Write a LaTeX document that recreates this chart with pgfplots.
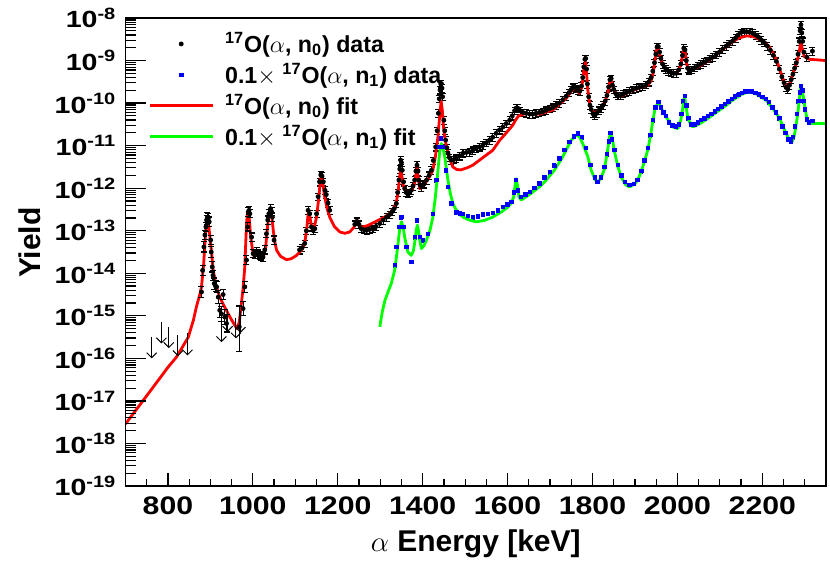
\documentclass[border=0pt]{standalone}
\usepackage{fontspec}
\setmainfont{Liberation Sans}
\usepackage{graphicx}
\usepackage{pgfplots}
\pgfplotsset{compat=1.18}
\usetikzlibrary{arrows.meta}
\definecolor{rootgreen}{RGB}{0,255,0}
\newcommand\yl[1]{\scalebox{1.22}[1]{10\textsuperscript{-#1}}}
\newcommand\xl[1]{\scalebox{1.19}[1]{#1}}
\begin{document}
\begin{tikzpicture}
\path[use as bounding box] (-62.75pt,-39.5pt) rectangle (352.25pt,243pt);
\begin{axis}[
  width=350.25pt, height=234pt, scale only axis,
  xmin=700, xmax=2350, ymin=1e-19, ymax=1e-8, ymode=log,
  axis on top,
  xtick=\empty,
  ytick={1e-19,1e-18,1e-17,1e-16,1e-15,1e-14,1e-13,1e-12,1e-11,1e-10,1e-9,1e-8},
  yticklabels={\yl{19},\yl{18},\yl{17},\yl{16},\yl{15},\yl{14},\yl{13},\yl{12},\yl{11},\yl{10},\yl{9},\yl{8}},
  minor ytick={2e-19,3e-19,4e-19,5e-19,6e-19,7e-19,8e-19,9e-19,
    2e-18,3e-18,4e-18,5e-18,6e-18,7e-18,8e-18,9e-18,
    2e-17,3e-17,4e-17,5e-17,6e-17,7e-17,8e-17,9e-17,
    2e-16,3e-16,4e-16,5e-16,6e-16,7e-16,8e-16,9e-16,
    2e-15,3e-15,4e-15,5e-15,6e-15,7e-15,8e-15,9e-15,
    2e-14,3e-14,4e-14,5e-14,6e-14,7e-14,8e-14,9e-14,
    2e-13,3e-13,4e-13,5e-13,6e-13,7e-13,8e-13,9e-13,
    2e-12,3e-12,4e-12,5e-12,6e-12,7e-12,8e-12,9e-12,
    2e-11,3e-11,4e-11,5e-11,6e-11,7e-11,8e-11,9e-11,
    2e-10,3e-10,4e-10,5e-10,6e-10,7e-10,8e-10,9e-10,
    2e-9,3e-9,4e-9,5e-9,6e-9,7e-9,8e-9,9e-9},
  tick pos=left, tick align=inside,
  major tick length=10.5pt, minor tick length=5.5pt,
  axis line style={line width=0.9pt},
  tick style={draw=black, line width=0.6pt},
  yticklabel style={font=\bfseries\fontsize{11.7}{14}\selectfont, anchor=east, inner sep=0pt, xshift=-4.3pt},
  ylabel={Yield},
  ylabel style={font=\bfseries\fontsize{15}{18}\selectfont, at={(axis description cs:-0.1363,0.52)}, anchor=center},
  legend style={at={(axis description cs:0.032,0.972)}, anchor=north west, draw=none, fill=none, inner sep=0pt,
    font=\bfseries\fontsize{11.6}{13}\selectfont, row sep=3pt, nodes={inner sep=0.5pt},
    /tikz/every odd column/.append style={column sep=5pt}},
  legend cell align=left,
  legend image code/.code={\draw[mark repeat=2,mark phase=2,#1] plot coordinates {(0pt,0pt) (15.75pt,0pt) (31.5pt,0pt)};},
]
% 17O(a,n0) data
\addplot[only marks, mark=*, mark size=1pt, black,
  error bars/.cd, y dir=both, y fixed relative=0.2,
  error bar style={line width=0.55pt, black},
  error mark options={rotate=90, mark size=1.5pt, line width=0.55pt, black}]
table {
1110 3.55e-14
1116 3.98e-14
1122 5.01e-14
1126 1.00e-13
1130 3.02e-13
1134 2.51e-13
1138 1.23e-13
1142 1.02e-13
1146 1.12e-13
1150 2.51e-13
1153.6 6.31e-13
1157 1.41e-12
1160 2.04e-12
1163 1.91e-12
1166 1.41e-12
1170 8.91e-13
1173 7.08e-13
1177 4.47e-13
1181 3.02e-13
1240 1.41e-13
1245 1.66e-13
1250 1.41e-13
1255 1.12e-13
1262 1.05e-13
1268 1.02e-13
1275 1.07e-13
1283 1.12e-13
1290 1.26e-13
1299 1.48e-13
1307 1.78e-13
1315 2.09e-13
1322 2.40e-13
1328 2.82e-13
1333 3.31e-13
1338 4.37e-13
1341 7.94e-13
1344 1.55e-12
1346 2.82e-12
1348 4.57e-12
1350 3.98e-12
1352 2.63e-12
1355 1.41e-12
1357.6 9.77e-13
1361 7.94e-13
1365 7.41e-13
1369 7.94e-13
1373 8.91e-13
1377 1.12e-12
1381 1.55e-12
1384 2.51e-12
1386.6 3.47e-12
1389 2.51e-12
1391 1.55e-12
1394 1.20e-12
1397 1.07e-12
1403 1.26e-12
1409 1.55e-12
1415 2.00e-12
1420.5 2.63e-12
1425 4.47e-12
1430.6 9.33e-12
1434 2.24e-11
1437 5.75e-11
1439 1.26e-10
1440.7 2.04e-10
1442.5 2.82e-10
1444 2.88e-10
1445.5 2.24e-10
1447 1.41e-10
1450 3.98e-11
1452 2.24e-11
1454 1.35e-11
1457 8.91e-12
1459.5 6.61e-12
1463 5.25e-12
1467.5 4.57e-12
1473 4.68e-12
1479 5.01e-12
1487 5.75e-12
1495 6.61e-12
1503 6.92e-12
1510.6 7.08e-12
1518 7.76e-12
1526 8.51e-12
1534 9.33e-12
1542 1.02e-11
1550 1.17e-11
1557.6 1.35e-11
1565 1.58e-11
1573 1.95e-11
1581 2.34e-11
1589 2.75e-11
1597 3.31e-11
1605 3.98e-11
1611 5.01e-11
1616.5 6.61e-11
1620 7.59e-11
1624 7.59e-11
1630 6.61e-11
1636 6.03e-11
1644 5.75e-11
1652 5.50e-11
1659.5 5.50e-11
1667 5.75e-11
1675 6.03e-11
1683 6.31e-11
1691 6.76e-11
1699 7.41e-11
1707 7.94e-11
1714 8.91e-11
1722 1.00e-10
1730 1.20e-10
1738 1.45e-10
1745 1.78e-10
1750 2.09e-10
1754 2.34e-10
1758 2.40e-10
1762 2.19e-10
1766 2.00e-10
1770 1.91e-10
1774 2.51e-10
1777 3.98e-10
1779.5 7.08e-10
1782 1.07e-9
1784 1.12e-9
1786 6.31e-10
1788 2.82e-10
1791 1.41e-10
1794 8.91e-11
1797 7.08e-11
1801 5.62e-11
1805 5.25e-11
1810 5.75e-11
1815 6.76e-11
1820 7.59e-11
1825 8.91e-11
1830 1.12e-10
1834 1.51e-10
1838 2.40e-10
1841 3.55e-10
1844 3.80e-10
1847 2.63e-10
1850 2.09e-10
1855 1.66e-10
1860 1.51e-10
1866 1.51e-10
1873 1.66e-10
1880 1.78e-10
1887 1.91e-10
1895 2.09e-10
1903 2.24e-10
1910 2.34e-10
1918 2.45e-10
1926 2.69e-10
1933 3.16e-10
1938 3.98e-10
1942 5.62e-10
1946 8.91e-10
1949 1.41e-9
1952 2.09e-9
1955 2.14e-9
1958 1.58e-9
1961 1.12e-9
1965 8.32e-10
1969 7.08e-10
1973 6.31e-10
1979 5.62e-10
1985 5.25e-10
1991 5.01e-10
1997 5.01e-10
2003 6.03e-10
2008 8.32e-10
2012 1.32e-9
2015 1.95e-9
2018 1.78e-9
2021 1.00e-9
2024 6.61e-10
2028 6.03e-10
2034 6.17e-10
2041 6.76e-10
2048 7.59e-10
2055 8.32e-10
2062 9.12e-10
2069 1.00e-9
2076 1.10e-9
2083 1.20e-9
2091 1.38e-9
2099 1.58e-9
2107 1.86e-9
2115 2.19e-9
2122 2.51e-9
2130 2.88e-9
2137 3.39e-9
2143 3.98e-9
2150 4.57e-9
2157 4.79e-9
2163 4.79e-9
2170 4.68e-9
2177 4.37e-9
2184 3.98e-9
2191 3.55e-9
2198 3.02e-9
2205 2.63e-9
2212 2.19e-9
2219 1.74e-9
2226 1.32e-9
2233 9.55e-10
2240 6.31e-10
2246 4.17e-10
2251 3.02e-10
2256 2.34e-10
2260 2.14e-10
2264 2.63e-10
2268 3.55e-10
2272 4.79e-10
2276 6.61e-10
2280 8.91e-10
2284 1.41e-9
2287 2.82e-9
2289 5.01e-9
2291 6.92e-9
2293 4.47e-9
2295 2.82e-9
2298 1.58e-9
2305 1.20e-9
2318 1.66e-9
};
\addlegendentry{\textsuperscript{17}O($\alpha$, n\textsubscript{0}) data}
% 0.1 x 17O(a,n1) data
\addplot[only marks, mark=square*, mark size=0.85pt, blue,
  error bars/.cd, y dir=both, y fixed relative=0.1,
  error bar style={line width=0.4pt, blue},
  error mark options={rotate=90, mark size=1pt, line width=0.4pt, blue}]
table {
1334 1.55e-14
1338 4.17e-14
1344 1.23e-13
1350 2.09e-13
1355 1.23e-13
1361.6 4.17e-14
1373 1.86e-14
1381 7.08e-14
1386.6 1.78e-13
1393 7.08e-14
1400.7 6.03e-14
1412.5 8.51e-14
1424 2.51e-13
1432 1.55e-12
1438 9.33e-12
1443 1.48e-11
1447.7 9.33e-12
1454 2.63e-12
1459.5 1.07e-12
1467.5 4.37e-13
1479 2.75e-13
1487 2.57e-13
1495 2.45e-13
1506 2.24e-13
1518 2.09e-13
1530 2.19e-13
1542 2.45e-13
1553 2.51e-13
1565 2.63e-13
1577 3.02e-13
1589 3.63e-13
1600 4.17e-13
1609 4.79e-13
1615 7.94e-13
1619 1.55e-12
1624 8.91e-13
1632 6.31e-13
1642 7.08e-13
1652 8.13e-13
1663 1.00e-12
1675 1.29e-12
1687 1.78e-12
1699 2.40e-12
1710 3.39e-12
1722 5.01e-12
1734 7.94e-12
1746 1.23e-11
1756 1.66e-11
1765 1.95e-11
1775 1.58e-11
1785 8.91e-12
1795 3.55e-12
1805 1.78e-12
1812 1.41e-12
1820 1.78e-12
1828 3.16e-12
1834 6.31e-12
1838 1.26e-11
1842 2.00e-11
1846 1.41e-11
1852 7.94e-12
1860 3.55e-12
1868 2.00e-12
1876 1.41e-12
1887 1.20e-12
1897 1.26e-12
1906 1.58e-12
1915 2.51e-12
1922 4.47e-12
1930 8.91e-12
1936 1.78e-11
1942 3.98e-11
1948 7.94e-11
1955 1.05e-10
1961 7.94e-11
1967 6.03e-11
1973 5.01e-11
1980 3.55e-11
1988 3.02e-11
1997 2.82e-11
2004 3.16e-11
2009 5.62e-11
2013 1.12e-10
2017 1.48e-10
2021 8.91e-11
2026 4.47e-11
2032 3.16e-11
2040 3.16e-11
2048 3.55e-11
2056 3.98e-11
2064 4.37e-11
2072 5.01e-11
2080 5.62e-11
2088 6.31e-11
2096 7.24e-11
2104 8.32e-11
2112 9.55e-11
2120 1.10e-10
2128 1.26e-10
2136 1.45e-10
2144 1.58e-10
2152 1.74e-10
2160 1.86e-10
2168 1.91e-10
2176 1.86e-10
2184 1.74e-10
2192 1.58e-10
2200 1.41e-10
2208 1.26e-10
2216 1.05e-10
2224 7.94e-11
2232 6.03e-11
2240 4.47e-11
2247 2.82e-11
2254 2.00e-11
2261 1.41e-11
2267 1.26e-11
2272 1.58e-11
2277 2.82e-11
2281 5.62e-11
2285 1.12e-10
2288 1.78e-10
2291 2.51e-10
2294 2.00e-10
2297 1.12e-10
2300 7.08e-11
2305 4.17e-11
2310 3.55e-11
2318 3.80e-11
};
\addlegendentry{0.1$\times$ \textsuperscript{17}O($\alpha$, n\textsubscript{1}) data}
% red fit
\addplot[red, line width=1.4pt, line join=round, no markers] table {
700 2.88e-18
750 1.32e-17
800 6.17e-17
820 1.07e-16
848 3.16e-16
860 7.94e-16
867 1.62e-15
875 3.16e-15
879 4.79e-15
884 1.58e-14
887 5.01e-14
890 1.41e-13
892.5 2.09e-13
895 1.58e-13
899 7.08e-14
903 2.82e-14
906.6 1.17e-14
913 5.25e-15
922 2.75e-15
935 1.51e-15
946 9.33e-16
955 6.61e-16
962 5.01e-16
968 7.08e-16
973 1.95e-15
977 4.47e-15
981 1.41e-14
983 4.47e-14
985 1.41e-13
987 2.51e-13
989 3.02e-13
991 2.24e-13
995 7.08e-14
1001 2.63e-14
1005 2.82e-14
1009 2.88e-14
1016 2.51e-14
1024 2.24e-14
1030 3.98e-14
1034.5 1.23e-13
1038 2.63e-13
1041.6 3.31e-13
1045 2.09e-13
1048 1.02e-13
1052 5.25e-14
1056 3.47e-14
1065 2.51e-14
1079 2.09e-14
1090 2.19e-14
1103 2.63e-14
1115 3.55e-14
1122 5.01e-14
1127 1.12e-13
1130 2.40e-13
1132 2.82e-13
1135 1.91e-13
1140 1.02e-13
1145 1.26e-13
1150 2.09e-13
1155 5.62e-13
1159 1.51e-12
1161.6 2.04e-12
1164 1.51e-12
1169 6.31e-13
1175 3.31e-13
1181 2.09e-13
1192 1.26e-13
1205 9.33e-14
1217 8.71e-14
1228 9.33e-14
1238 1.20e-13
1245 1.78e-13
1250 1.38e-13
1256 1.20e-13
1270 1.32e-13
1290 1.66e-13
1310 2.09e-13
1322 2.51e-13
1333 3.55e-13
1338 4.79e-13
1342 7.94e-13
1345 1.58e-12
1348 2.75e-12
1351 1.91e-12
1354 1.20e-12
1357.6 9.33e-13
1363 7.94e-13
1368 7.59e-13
1375 8.91e-13
1381 1.29e-12
1384 2.09e-12
1386.6 3.16e-12
1389 1.91e-12
1393 9.77e-13
1399 1.07e-12
1405 1.29e-12
1415 1.78e-12
1424 2.63e-12
1430 5.62e-12
1436 1.62e-11
1440 5.01e-11
1443.5 1.12e-10
1446.5 6.31e-11
1449 2.75e-11
1452 1.58e-11
1456 9.33e-12
1463 5.01e-12
1471 3.16e-12
1480 2.75e-12
1490 2.69e-12
1505 3.02e-12
1518 3.47e-12
1534 4.57e-12
1550 6.03e-12
1565 7.76e-12
1581 1.32e-11
1597 2.00e-11
1612 3.02e-11
1620 4.17e-11
1626 5.01e-11
1644 5.75e-11
1675 5.50e-11
1707 6.92e-11
1738 1.29e-10
1750 1.91e-10
1757 2.24e-10
1763 2.00e-10
1769 1.70e-10
1774 2.24e-10
1777 3.47e-10
1780.5 7.08e-10
1783.5 9.33e-10
1786 5.01e-10
1789 2.04e-10
1793 1.00e-10
1797 6.92e-11
1805 5.75e-11
1820 7.59e-11
1830 1.12e-10
1836 1.70e-10
1841 3.31e-10
1844 3.47e-10
1848 2.40e-10
1852 1.91e-10
1863 1.41e-10
1875 1.58e-10
1887 1.86e-10
1910 2.24e-10
1930 2.63e-10
1938 3.31e-10
1943 5.01e-10
1947 1.00e-9
1950 1.66e-9
1953 2.14e-9
1956 1.78e-9
1961 1.07e-9
1967 7.59e-10
1973 6.31e-10
1985 5.37e-10
1997 5.01e-10
2004 6.31e-10
2009 8.91e-10
2013 1.51e-9
2016 1.95e-9
2019 1.41e-9
2022 7.94e-10
2027 6.31e-10
2035 6.17e-10
2050 7.24e-10
2075 1.02e-9
2095 1.45e-9
2115 2.14e-9
2130 2.75e-9
2145 3.39e-9
2163 3.80e-9
2180 3.63e-9
2201 2.88e-9
2215 2.19e-9
2224 1.58e-9
2234 1.00e-9
2244 5.01e-10
2252 3.02e-10
2259.5 2.14e-10
2266 3.16e-10
2275 6.03e-10
2282 9.55e-10
2287 1.58e-9
2289.5 2.40e-9
2291.5 2.51e-9
2294 1.91e-9
2299 1.23e-9
2311 1.07e-9
2350 1.00e-9
};
\addlegendentry{\textsuperscript{17}O($\alpha$, n\textsubscript{0}) fit}
% green fit
\addplot[rootgreen, line width=1.4pt, line join=round, no markers] table {
1299 5.50e-16
1305 1.26e-15
1311 2.29e-15
1318 3.55e-15
1326 5.75e-15
1334 1.17e-14
1339 2.82e-14
1342 5.01e-14
1346 1.12e-13
1350 1.62e-13
1354 1.20e-13
1357.6 7.08e-14
1365 3.16e-14
1373 2.63e-14
1378 3.31e-14
1381 5.01e-14
1384.5 1.00e-13
1387.5 1.35e-13
1390.5 9.55e-14
1393 6.03e-14
1397 3.80e-14
1403 4.47e-14
1409 6.03e-14
1417 1.00e-13
1424 2.09e-13
1430 6.31e-13
1436 2.63e-12
1440 7.08e-12
1444 1.12e-11
1448 8.71e-12
1452 5.50e-12
1459.5 1.55e-12
1465 7.59e-13
1471 4.37e-13
1482 2.69e-13
1495 2.09e-13
1510 1.78e-13
1526 1.62e-13
1545 1.74e-13
1565 2.09e-13
1585 2.75e-13
1600 3.55e-13
1608 4.37e-13
1614 6.03e-13
1617.5 1.12e-12
1620.5 1.66e-12
1623.5 1.12e-12
1626.6 6.31e-13
1632 5.25e-13
1650 6.92e-13
1675 1.07e-12
1691 1.55e-12
1710 2.63e-12
1730 5.50e-12
1750 1.35e-11
1762 1.78e-11
1770 1.58e-11
1777 1.12e-11
1789 5.50e-12
1797 2.63e-12
1806 1.58e-12
1814 1.41e-12
1822 1.91e-12
1828 2.82e-12
1835 7.08e-12
1840 1.58e-11
1843 1.91e-11
1847 1.41e-11
1852 7.08e-12
1860 3.16e-12
1868 1.78e-12
1878 1.20e-12
1887 1.07e-12
1900 1.26e-12
1910 1.86e-12
1920 3.55e-12
1930 7.76e-12
1937 1.78e-11
1942 3.80e-11
1947 7.08e-11
1952 9.33e-11
1956 9.77e-11
1962 7.59e-11
1973 4.79e-11
1989 2.75e-11
2001 2.51e-11
2008 3.98e-11
2012 6.92e-11
2015 1.20e-10
2017 1.41e-10
2020 8.91e-11
2024 4.79e-11
2030 3.31e-11
2036 2.75e-11
2050 3.16e-11
2066 3.98e-11
2083 5.25e-11
2100 6.92e-11
2115 8.91e-11
2130 1.17e-10
2150 1.58e-10
2167 1.86e-10
2185 1.66e-10
2209 1.17e-10
2224 7.59e-11
2240 4.47e-11
2256 1.95e-11
2263 1.41e-11
2270 1.23e-11
2275 1.66e-11
2279 2.75e-11
2284 6.31e-11
2287 1.17e-10
2290 2.24e-10
2292 2.51e-10
2295 1.78e-10
2299 9.77e-11
2303 5.62e-11
2307 3.63e-11
2313 3.31e-11
2350 3.31e-11
};
\addlegendentry{0.1$\times$ \textsuperscript{17}O($\alpha$, n\textsubscript{1}) fit}
% low-energy 17O(a,n0) data with larger uncertainties
\addplot[forget plot, only marks, mark=*, mark size=1pt, black,
  error bars/.cd, y dir=both, y explicit relative,
  error bar style={line width=0.55pt, black},
  error mark options={rotate=90, mark size=1.5pt, line width=0.55pt, black}]
table[x index=0, y index=1, y error plus index=2, y error minus index=3] {
879 3.63e-15 0.32 0.24
881.6 1.17e-14 0.32 0.24
884.7 4.17e-14 0.32 0.24
887 7.94e-14 0.3 0.23
889.4 1.23e-13 0.3 0.23
891 1.78e-13 0.3 0.23
892.5 2.04e-13 0.3 0.23
895 1.91e-13 0.3 0.23
897.2 1.62e-13 0.3 0.23
900.5 6.03e-14 0.3 0.23
902 3.16e-14 0.32 0.24
904.3 1.41e-14 0.32 0.24
906 8.91e-15 0.32 0.24
909 5.75e-15 0.35 0.26
912 5.01e-15 0.35 0.26
914.6 4.79e-15 0.35 0.26
918.4 2.75e-15 0.4 0.29
922 1.35e-15 0.45 0.31
926 1.12e-15 0.5 0.33
930 3.16e-15 0.3 0.23
934 9.33e-16 0.5 0.33
938 6.61e-16 0.6 0.37
968 5.50e-16 2.09 0.74
977 1.48e-15 0.48 0.32
981 4.79e-15 0.35 0.26
985 2.04e-14 0.3 0.23
987.5 1.23e-13 0.25 0.2
989 2.75e-13 0.25 0.2
991 3.02e-13 0.25 0.2
993 2.51e-13 0.25 0.2
997 7.08e-14 0.25 0.2
1000.7 2.88e-14 0.25 0.2
1004 2.82e-14 0.25 0.2
1008.7 3.16e-14 0.25 0.2
1012 2.82e-14 0.25 0.2
1016.5 2.63e-14 0.25 0.2
1020 2.51e-14 0.25 0.2
1024 2.40e-14 0.25 0.2
1028 3.55e-14 0.25 0.2
1032 8.51e-14 0.25 0.2
1035 1.78e-13 0.25 0.2
1037.6 2.51e-13 0.25 0.2
1041.6 3.31e-13 0.25 0.2
1044 2.82e-13 0.25 0.2
1046 2.09e-13 0.25 0.2
1050 6.03e-14 0.25 0.2
};
% upper limits (arrows)
\pgfplotsset{ularrow/.style={forget plot, black, line width=0.5pt, -{Straight Barb[length=2.5pt,width=5pt]}}}
\addplot[ularrow] coordinates {(761.6,3.16e-16) (761.6,1.00e-16)};
\addplot[ularrow] coordinates {(784.7,7.08e-16) (784.7,2.24e-16)};
\addplot[ularrow] coordinates {(802,5.37e-16) (802,1.74e-16)};
\addplot[ularrow] coordinates {(823.5,3.47e-16) (823.5,1.12e-16)};
\addplot[ularrow] coordinates {(846,3.89e-16) (846,1.17e-16)};
\addplot[ularrow] coordinates {(926,7.76e-16) (926,2.40e-16)};
\addplot[ularrow] coordinates {(940.5,1.35e-15) (940.5,4.17e-16)};
\addplot[ularrow] coordinates {(960,9.12e-16) (960,2.95e-16)};
\addplot[ularrow] coordinates {(971,1.29e-15) (971,3.98e-16)};
\end{axis}
\begin{axis}[
  width=350.25pt, height=234pt, scale only axis,
  xmin=700, xmax=2350, ymin=0, ymax=1,
  axis on top,
  ytick=\empty,
  xtick={800,1000,...,2200},
  xticklabels={\xl{800},\xl{1000},\xl{1200},\xl{1400},\xl{1600},\xl{1800},\xl{2000},\xl{2200}},
  minor xtick={700,750,...,2350},
  tick pos=left, tick align=inside,
  major tick length=6.5pt, minor tick length=3.5pt,
  axis line style={line width=0.9pt},
  tick style={draw=black, line width=0.6pt},
  xticklabel style={font=\bfseries\fontsize{12.7}{15}\selectfont, anchor=base, yshift=-14.5pt},
  xlabel={$\alpha$ \bfseries Energy [keV]},
  xlabel style={font=\fontsize{15}{18}\selectfont, at={(axis description cs:0.5,0)}, anchor=base, yshift=-33pt},
]
\end{axis}
\end{tikzpicture}
\end{document}
